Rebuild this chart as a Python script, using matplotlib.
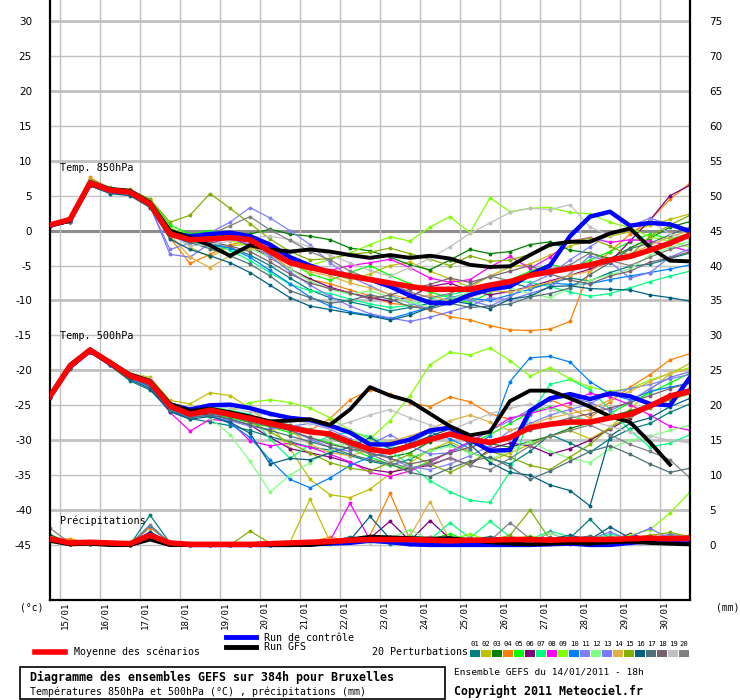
import numpy as np
import matplotlib.pyplot as plt
from matplotlib.lines import Line2D
from matplotlib.patches import Rectangle

# run time axis: hours after 14/01/2011 18h, every 12h up to 384h
hours = list(range(0, 385, 12))
days = ["15/01", "16/01", "17/01", "18/01", "19/01", "20/01", "21/01", "22/01",
        "23/01", "24/01", "25/01", "26/01", "27/01", "28/01", "29/01", "30/01"]

pert_colors = ["#008080", "#c0c000", "#008000", "#ff8000", "#00ff00", "#800080",
               "#00ff80", "#ff00ff", "#80ff00", "#0080ff", "#8080ff", "#80ff80",
               "#7878f8", "#e0b040", "#80b000", "#006080", "#507078", "#786070",
               "#c0c0c0", "#808080"]

# --- temperature 850 hPa (°C)
t850_mean = [0.8, 1.6, 6.8, 5.8, 5.5, 3.8, -0.5, -1.3, -1.2, -1.0, -1.3, -3.0, -4.6,
             -5.3, -5.9, -6.5, -7.0, -7.5, -8.0, -8.4, -8.4, -8.4, -7.8, -7.3, -6.4,
             -5.9, -5.4, -4.9, -4.2, -3.7, -2.8, -1.8, -0.6]
t850_ctrl = [0.7, 1.5, 6.9, 5.9, 5.6, 3.9, -0.3, -0.8, -0.5, -0.3, -0.8, -2.0, -3.8,
             -5.0, -6.0, -6.5, -7.0, -8.0, -9.3, -10.3, -10.4, -9.2, -8.4, -8.0, -6.3,
             -5.0, -0.8, 2.0, 2.7, 0.7, 1.1, 0.9, -0.1]
t850_gfs = [0.8, 1.4, 6.6, 5.9, 5.7, 4.0, 0.0, -1.0, -2.1, -3.6, -2.1, -2.7, -3.0,
            -2.7, -3.0, -3.5, -3.9, -3.5, -3.9, -3.6, -4.0, -4.9, -5.2, -5.1, -3.5,
            -2.0, -1.6, -1.6, -0.4, 0.3, -2.4, -4.3, -4.4]
t850_pert = [
    [0.6, 1.3, 6.5, 5.6, 5.3, 3.5, -0.8, -1.6, -1.9, -2.4, -3.5, -5.0, -6.8, -8.5, -9.6, -10.2, -10.8, -11.5, -11.0, -10.4, -9.6, -9.0, -8.0, -7.4, -8.2, -7.5, -6.8, -7.2, -6.0, -5.1, -4.8, -4.0, -3.2],
    [0.9, 1.7, 7.2, 6.0, 5.4, 4.2, 0.5, -2.4, -3.8, -2.2, -1.9, -2.6, -4.4, -5.3, -6.1, -7.0, -6.2, -5.0, -4.5, -5.8, -6.9, -8.1, -6.5, -5.2, -4.8, -3.5, -2.2, -1.5, -0.8, -0.2, 0.8, 1.6, 2.4],
    [0.8, 1.6, 7.0, 5.9, 5.7, 4.0, 0.2, -0.9, -1.1, -0.5, -0.5, 0.2, -0.5, -0.8, -1.3, -2.5, -2.9, -3.8, -4.9, -5.6, -4.2, -2.7, -3.3, -3.0, -2.0, -1.6, -2.8, -3.2, -4.0, -2.5, -1.1, 0.5, 1.3],
    [0.7, 1.5, 7.6, 6.0, 5.5, 4.5, -1.0, -4.7, -3.4, -2.0, -1.5, -3.3, -5.5, -7.0, -7.6, -8.5, -9.3, -10.4, -10.7, -11.4, -12.3, -12.8, -13.6, -14.2, -14.3, -14.1, -13.0, -5.5, -3.0, -0.5, 1.5, 4.5, 6.8],
    [0.9, 1.8, 7.1, 6.1, 5.8, 4.4, 0.8, -0.5, 0.0, -0.6, -1.3, -2.6, -4.5, -6.2, -7.1, -6.0, -5.0, -6.4, -7.6, -8.8, -9.6, -10.3, -8.9, -7.1, -5.8, -4.8, -5.5, -4.2, -3.0, -1.6, -0.5, -1.2, -0.4],
    [0.6, 1.2, 6.6, 5.4, 5.2, 3.6, -0.6, -1.1, -1.4, -1.0, -2.2, -3.9, -5.5, -6.9, -8.1, -8.9, -9.6, -10.1, -9.5, -8.0, -7.5, -8.6, -9.2, -8.7, -8.0, -7.2, -6.4, -5.5, -4.5, -1.5, 1.5, 5.0, 6.5],
    [0.8, 1.5, 6.9, 5.8, 5.5, 3.8, -0.4, -1.5, -1.9, -2.8, -4.3, -6.0, -7.7, -8.6, -9.0, -9.8, -10.5, -11.0, -10.7, -9.8, -9.2, -8.5, -8.0, -7.2, -7.4, -8.0, -8.8, -9.4, -9.0, -8.2, -7.3, -6.5, -5.8],
    [0.7, 1.4, 6.8, 5.7, 5.4, 3.7, -0.2, -1.3, -1.4, -1.2, -1.6, -2.4, -4.1, -5.3, -5.7, -5.0, -4.6, -4.1, -5.3, -6.8, -7.4, -7.0, -5.2, -3.7, -5.4, -3.8, -1.5, -1.0, -1.7, -1.3, -1.5, -2.2, -3.0],
    [0.9, 1.7, 7.1, 6.0, 5.6, 4.1, 0.3, -0.6, -0.4, -1.4, -2.3, -3.4, -4.4, -5.0, -4.1, -3.2, -2.0, -0.9, -1.5, 0.5, 2.0, -0.3, 4.7, 2.7, 3.2, 3.3, 2.6, 2.4, 1.2, 0.4, -0.9, -1.5, -2.4],
    [0.7, 1.5, 6.9, 5.8, 5.4, 3.7, -0.7, -1.8, -2.0, -2.5, -3.8, -5.7, -7.6, -9.5, -10.8, -11.6, -12.1, -12.6, -11.8, -10.9, -10.2, -9.7, -10.0, -9.2, -8.4, -7.5, -7.7, -7.6, -7.0, -6.5, -6.0, -5.5, -4.9],
    [0.6, 1.4, 6.7, 5.5, 5.3, 3.4, -2.7, -1.8, -0.3, 1.2, 3.3, 1.8, 0.0, -2.0, -4.6, -6.6, -7.9, -9.2, -10.4, -11.2, -9.5, -10.0, -10.8, -9.5, -7.6, -6.3, -4.2, -2.3, -0.5, 0.6, 1.8, 0.8, 0.2],
    [0.8, 1.6, 7.0, 5.9, 5.6, 3.9, 0.0, -1.6, -2.5, -3.7, -2.6, -3.8, -5.5, -7.2, -8.4, -9.1, -8.6, -9.5, -10.2, -11.0, -9.8, -8.8, -7.6, -8.2, -9.0, -9.6, -8.2, -7.1, -6.3, -5.5, -3.5, -2.4, -1.5],
    [0.7, 1.5, 6.8, 5.7, 5.3, 3.6, -3.4, -3.8, -1.8, -1.1, -2.0, -3.6, -5.9, -7.8, -9.4, -10.8, -11.9, -12.5, -13.0, -12.4, -11.6, -10.8, -9.6, -9.9, -9.0, -8.1, -6.2, -3.6, -4.5, -6.8, -6.0, -3.8, -2.6],
    [0.8, 1.6, 7.4, 6.1, 5.1, 4.3, -0.6, -3.8, -5.3, -3.6, -2.5, -2.9, -4.6, -5.9, -6.5, -7.5, -8.2, -9.1, -9.8, -9.2, -10.1, -9.5, -8.6, -8.8, -8.1, -7.4, -6.4, -5.8, -4.2, -3.3, -2.1, -0.9, 0.0],
    [0.9, 1.7, 7.3, 6.2, 5.9, 4.5, 1.2, 2.2, 5.3, 3.2, 1.0, -1.2, -3.0, -4.2, -4.0, -3.4, -3.1, -2.5, -3.3, -4.1, -5.0, -3.6, -4.4, -4.2, -3.4, -2.0, -1.5, -1.1, -2.2, -3.6, -0.8, 0.8, 2.2],
    [0.6, 1.2, 6.4, 5.3, 5.0, 3.3, -1.2, -2.7, -3.6, -4.6, -6.0, -7.8, -9.6, -10.8, -11.3, -11.8, -12.2, -12.8, -12.1, -11.0, -10.0, -10.5, -11.2, -9.8, -9.4, -8.0, -7.9, -8.3, -8.4, -8.5, -9.2, -9.6, -10.1],
    [0.7, 1.4, 6.7, 5.6, 5.4, 3.8, -0.5, -1.7, -2.6, -3.6, -4.8, -6.5, -8.6, -9.6, -10.4, -10.0, -9.2, -9.8, -10.9, -11.2, -10.4, -11.0, -10.8, -10.5, -9.5, -9.0, -8.2, -6.3, -4.6, -2.6, -1.8, -0.6, 0.5],
    [0.8, 1.5, 6.9, 5.7, 5.5, 3.9, -0.3, -1.0, -1.6, -2.2, -3.0, -4.5, -6.2, -7.5, -8.3, -8.9, -9.8, -9.2, -8.4, -7.7, -6.8, -7.4, -6.6, -5.8, -5.0, -6.2, -7.1, -7.6, -6.5, -5.8, -4.5, -3.9, -3.0],
    [0.8, 1.6, 7.0, 5.8, 5.6, 3.9, -0.6, -2.2, -2.0, -1.5, -1.0, -0.8, -1.3, -2.4, -3.5, -4.6, -5.7, -6.5, -5.3, -4.0, -2.3, -0.4, 1.1, 2.6, 3.2, 3.0, 3.7, 0.5, -0.7, 0.6, 1.4, -0.5, -1.2],
    [0.7, 1.4, 6.8, 5.7, 5.5, 3.8, -0.1, -0.8, -0.6, 0.7, 2.0, 0.1, -1.4, -3.0, -4.2, -5.8, -6.9, -7.6, -8.8, -9.6, -9.0, -7.8, -6.5, -7.2, -6.3, -5.5, -4.9, -3.2, -4.3, -5.0, -3.8, -2.7, -1.9],
]

# --- temperature 500 hPa (°C)
t500_mean = [-23.7, -19.4, -17.1, -18.9, -20.8, -21.7, -25.1, -26.3, -25.7, -26.3, -26.9,
             -27.6, -28.2, -28.8, -29.1, -30.3, -31.3, -31.7, -30.8, -29.9, -29.1, -29.9,
             -30.3, -29.6, -28.2, -27.7, -27.4, -27.4, -26.8, -26.3, -25.1, -23.7, -23.0]
t500_ctrl = [-23.8, -19.5, -17.2, -19.0, -20.7, -21.6, -24.9, -25.6, -25.0, -24.9, -25.4,
             -26.2, -26.8, -27.1, -27.9, -28.9, -30.6, -30.6, -29.9, -28.6, -28.2, -29.9,
             -31.5, -31.4, -25.8, -24.0, -23.4, -24.1, -23.3, -23.7, -24.8, -25.0, -21.0]
t500_gfs = [-23.6, -19.2, -17.0, -18.8, -20.6, -21.5, -24.8, -25.8, -25.5, -26.0, -26.6,
            -27.3, -27.2, -27.0, -27.8, -25.6, -22.4, -23.6, -24.4, -26.2, -28.0, -29.3,
            -28.8, -24.4, -22.9, -22.9, -24.0, -25.2, -26.6, -27.4, -30.3, -33.5, np.nan]
t500_pert = [
    [-23.9, -19.8, -17.4, -19.3, -21.5, -22.8, -25.8, -26.9, -27.4, -27.9, -28.6, -29.5, -30.2, -31.0, -31.4, -32.2, -33.0, -33.6, -32.7, -31.4, -30.6, -31.8, -32.6, -33.4, -31.6, -29.2, -30.4, -31.7, -29.8, -28.4, -27.6, -26.0, -24.8],
    [-23.5, -19.2, -16.9, -18.6, -20.4, -21.0, -24.3, -24.8, -23.2, -23.6, -25.4, -27.8, -31.2, -35.6, -37.8, -38.2, -37.0, -34.8, -33.2, -31.4, -30.2, -31.6, -33.0, -31.8, -30.6, -29.4, -28.6, -29.8, -28.2, -25.6, -22.8, -20.5, -19.0],
    [-23.7, -19.4, -17.1, -18.9, -20.7, -21.9, -25.3, -26.3, -26.0, -26.5, -26.9, -27.3, -27.8, -28.5, -29.6, -30.8, -31.9, -32.4, -31.8, -30.2, -29.0, -29.6, -30.5, -31.0, -30.2, -29.4, -28.3, -27.5, -26.6, -25.8, -24.9, -23.6, -22.9],
    [-23.6, -19.3, -17.0, -18.7, -20.5, -21.3, -25.0, -26.0, -25.4, -25.8, -26.4, -27.2, -28.0, -28.6, -26.9, -24.2, -22.8, -23.4, -24.6, -25.2, -23.8, -24.5, -26.2, -27.0, -26.0, -24.2, -25.4, -26.8, -24.5, -22.4, -20.6, -18.5, -17.6],
    [-23.8, -19.6, -17.3, -19.1, -20.9, -22.0, -25.6, -26.6, -26.2, -26.8, -27.5, -28.1, -28.9, -29.6, -30.4, -31.2, -32.4, -33.5, -34.2, -33.0, -31.6, -30.4, -29.2, -27.6, -26.0, -25.2, -26.4, -27.6, -26.2, -24.6, -23.2, -21.8, -20.4],
    [-23.7, -19.5, -17.2, -19.0, -20.8, -21.9, -25.2, -26.2, -26.3, -27.0, -27.8, -29.6, -31.2, -31.8, -32.4, -33.2, -34.2, -34.6, -34.0, -33.6, -32.5, -33.6, -31.2, -30.4, -30.8, -32.0, -31.2, -30.0, -28.4, -26.8, -25.2, -23.4, -22.6],
    [-23.6, -19.3, -17.0, -18.8, -20.6, -21.6, -25.0, -26.0, -25.3, -25.7, -26.3, -29.8, -32.6, -30.6, -29.4, -28.8, -29.5, -31.4, -33.6, -35.8, -37.4, -38.6, -38.9, -34.5, -26.4, -22.0, -21.3, -22.8, -25.6, -28.6, -31.0, -30.4, -29.2],
    [-23.8, -19.6, -17.3, -19.1, -21.0, -22.4, -26.0, -28.7, -27.0, -27.3, -30.1, -30.8, -30.4, -31.0, -32.0, -33.1, -34.6, -35.2, -34.4, -33.2, -31.6, -30.2, -28.6, -26.8, -26.2, -25.4, -24.6, -23.3, -23.8, -24.9, -26.4, -28.0, -28.6],
    [-23.5, -19.2, -16.9, -18.7, -20.5, -21.4, -24.6, -25.7, -25.2, -25.8, -24.6, -24.2, -24.6, -25.4, -26.8, -28.6, -29.8, -27.2, -23.6, -19.2, -17.4, -17.8, -16.8, -18.6, -20.8, -19.6, -21.2, -22.4, -23.0, -22.6, -21.4, -20.4, -19.6],
    [-23.8, -19.6, -17.3, -19.2, -21.1, -22.3, -25.7, -26.8, -26.4, -27.6, -29.6, -32.8, -35.6, -36.8, -35.4, -33.6, -32.4, -31.6, -30.4, -28.8, -29.8, -31.2, -29.4, -21.6, -18.2, -18.0, -18.8, -21.6, -23.4, -24.2, -23.0, -22.4, -21.8],
    [-23.7, -19.5, -17.1, -19.0, -20.8, -21.8, -25.3, -26.4, -26.6, -27.2, -28.0, -28.4, -28.0, -27.6, -28.4, -29.8, -31.0, -32.6, -33.8, -34.2, -33.4, -32.2, -30.8, -28.6, -27.6, -26.4, -25.6, -24.8, -23.2, -22.6, -22.0, -21.2, -20.6],
    [-23.6, -19.4, -17.0, -18.8, -20.6, -21.5, -25.0, -26.0, -26.8, -29.2, -33.0, -37.4, -35.0, -33.2, -31.4, -30.2, -29.4, -30.6, -32.4, -31.6, -30.8, -31.8, -32.8, -31.4, -30.2, -31.6, -32.6, -33.2, -31.2, -30.0, -29.4, -28.6, -27.8],
    [-23.7, -19.5, -17.2, -19.0, -20.8, -21.7, -25.2, -26.5, -26.6, -26.2, -27.0, -27.6, -28.6, -29.8, -31.0, -31.6, -30.6, -29.2, -30.8, -32.0, -31.8, -30.4, -28.6, -27.2, -25.6, -24.2, -23.8, -24.6, -25.8, -24.4, -22.6, -21.0, -20.2],
    [-23.6, -19.3, -17.0, -18.8, -20.5, -21.4, -24.9, -25.9, -25.4, -26.1, -26.8, -27.6, -28.6, -30.6, -31.8, -32.2, -31.4, -30.2, -29.4, -28.4, -27.2, -26.4, -27.4, -28.6, -27.8, -26.8, -26.2, -25.6, -24.2, -23.0, -21.6, -20.4, -19.8],
    [-23.7, -19.4, -17.1, -18.9, -20.7, -21.8, -25.4, -26.4, -25.9, -26.6, -27.4, -28.8, -30.4, -31.8, -33.2, -34.0, -34.4, -33.2, -32.0, -33.4, -34.6, -33.2, -31.6, -32.4, -33.6, -34.2, -32.4, -30.6, -28.2, -26.6, -25.4, -24.2, -23.4],
    [-23.9, -19.7, -17.4, -19.3, -21.3, -22.6, -25.9, -27.0, -26.6, -27.4, -29.0, -33.4, -32.6, -32.8, -31.8, -31.0, -29.6, -31.2, -30.6, -29.4, -28.4, -30.6, -33.2, -34.6, -35.0, -36.4, -37.2, -39.4, -29.4, -27.6, -26.8, -25.2, -24.0],
    [-23.8, -19.6, -17.3, -19.1, -21.0, -22.2, -25.6, -26.7, -26.4, -27.0, -27.8, -28.6, -29.4, -30.2, -31.0, -32.0, -32.8, -33.4, -34.6, -35.2, -34.0, -33.0, -32.4, -33.8, -35.6, -34.4, -33.0, -31.6, -30.8, -32.0, -33.4, -34.6, -34.0],
    [-23.7, -19.5, -17.2, -19.0, -20.8, -21.9, -25.3, -26.4, -26.1, -26.6, -27.4, -28.0, -28.6, -29.6, -30.6, -31.2, -31.8, -32.6, -33.4, -32.8, -31.8, -31.0, -30.2, -29.6, -28.6, -27.6, -26.8, -26.2, -25.4, -24.6, -23.6, -22.6, -21.8],
    [-23.6, -19.2, -16.8, -18.6, -20.4, -21.2, -24.6, -25.5, -25.0, -25.4, -26.0, -26.4, -27.0, -27.6, -28.2, -27.4, -26.4, -25.6, -26.8, -27.8, -28.6, -27.4, -26.2, -25.4, -24.8, -25.6, -26.4, -27.2, -28.0, -28.8, -29.4, -30.0, -30.4],
    [-23.7, -19.4, -17.1, -18.9, -20.8, -21.7, -25.1, -26.1, -25.6, -26.0, -26.6, -27.2, -27.9, -28.4, -29.4, -30.8, -32.0, -33.2, -34.0, -33.4, -32.6, -33.6, -34.2, -32.6, -30.8, -29.4, -28.6, -27.8, -29.2, -30.6, -31.6, -32.8, -35.4],
]

# --- precipitation (mm), drawn on the right-hand scale (0 mm = -45 °C)
rr_mean = [0.9, 0.3, 0.4, 0.3, 0.2, 1.4, 0.3, 0.1, 0.1, 0.1, 0.1, 0.2, 0.3, 0.4, 0.5, 0.7,
           0.8, 0.8, 0.8, 0.7, 0.6, 0.7, 0.7, 0.8, 0.8, 0.7, 0.8, 0.8, 0.8, 0.9, 1.0, 0.9, 1.0]
rr_ctrl = [0.8, 0.2, 0.3, 0.2, 0.1, 1.6, 0.1, 0.0, 0.0, 0.0, 0.0, 0.0, 0.0, 0.1, 0.2, 0.3,
           0.6, 0.4, 0.1, 0.0, 0.0, 0.0, 0.0, 0.0, 0.0, 0.1, 0.2, 0.0, 0.0, 0.3, 0.5, 0.3, 0.2]
rr_gfs = [0.6, 0.1, 0.2, 0.0, 0.0, 0.8, 0.0, 0.0, 0.0, 0.0, 0.0, 0.0, 0.0, 0.0, 0.3, 0.8,
          1.2, 1.1, 1.0, 0.9, 1.0, 0.7, 0.4, 0.2, 0.1, 0.2, 0.3, 0.2, 0.4, 0.5, 0.3, 0.2, 0.1]
rr_pert = [
    [0.9, 0.2, 0.3, 0.2, 0.0, 4.3, 0.3, 0.0, 0.0, 0.0, 0.0, 0.1, 0.2, 0.1, 0.4, 1.2, 0.8, 0.3, 0.2, 0.6, 0.4, 0.2, 0.8, 0.5, 0.3, 0.6, 1.0, 3.7, 0.8, 0.3, 0.5, 1.4, 0.6],
    [0.6, 0.1, 0.4, 0.3, 0.0, 1.4, 0.2, 0.0, 0.0, 0.0, 0.0, 0.0, 0.4, 6.6, 0.5, 0.3, 0.7, 0.2, 0.1, 0.4, 0.2, 0.9, 0.3, 0.2, 0.6, 0.4, 0.3, 0.8, 1.2, 0.6, 0.9, 0.4, 0.3],
    [1.5, 0.3, 0.2, 0.2, 0.1, 1.8, 0.2, 0.0, 0.0, 0.0, 0.0, 0.0, 0.1, 0.2, 0.3, 0.8, 1.0, 0.4, 0.9, 0.2, 0.5, 0.3, 0.6, 0.4, 0.8, 0.6, 0.3, 0.5, 0.9, 1.1, 0.4, 0.8, 1.2],
    [0.8, 0.9, 0.3, 0.2, 0.0, 2.5, 0.4, 0.0, 0.0, 0.0, 0.0, 0.1, 0.3, 0.5, 1.1, 0.6, 1.4, 7.4, 0.8, 1.2, 0.4, 0.2, 0.6, 0.3, 0.2, 0.4, 0.7, 0.5, 0.3, 0.6, 1.2, 0.8, 1.4],
    [1.0, 0.2, 0.3, 0.2, 0.1, 1.6, 0.3, 0.0, 0.0, 0.0, 0.0, 0.0, 0.1, 0.4, 0.2, 0.5, 0.6, 0.9, 0.4, 0.8, 1.6, 0.6, 0.4, 1.1, 0.5, 0.9, 0.6, 0.3, 0.6, 0.8, 1.0, 0.7, 0.5],
    [0.7, 0.1, 0.2, 0.3, 0.0, 1.2, 0.2, 0.0, 0.0, 0.0, 0.0, 0.0, 0.2, 0.3, 0.6, 0.9, 1.0, 3.4, 0.6, 3.5, 0.9, 0.4, 0.3, 0.6, 0.8, 0.4, 0.2, 1.1, 0.6, 1.6, 0.8, 0.5, 0.7],
    [0.9, 0.2, 0.3, 0.2, 0.0, 1.5, 0.3, 0.0, 0.0, 0.0, 0.0, 0.0, 0.1, 0.2, 0.5, 0.4, 1.2, 0.6, 1.4, 0.8, 3.2, 1.0, 3.4, 1.2, 0.8, 2.0, 1.2, 0.7, 1.6, 0.9, 0.5, 1.0, 0.8],
    [0.8, 0.2, 0.4, 0.2, 0.0, 1.3, 0.2, 0.0, 0.0, 0.0, 0.0, 0.0, 0.2, 0.4, 0.6, 6.0, 0.7, 0.4, 0.3, 0.5, 0.6, 0.2, 0.9, 0.4, 0.3, 1.8, 0.5, 0.3, 0.7, 0.4, 0.6, 0.9, 0.5],
    [0.9, 0.3, 0.3, 0.2, 0.1, 1.7, 0.3, 0.0, 0.0, 0.0, 0.0, 0.1, 0.2, 0.3, 0.4, 0.6, 0.5, 0.8, 0.5, 0.9, 0.7, 1.6, 0.6, 0.8, 1.3, 0.7, 1.1, 0.6, 0.9, 1.4, 2.2, 4.6, 7.6],
    [0.8, 0.2, 0.3, 0.2, 0.0, 2.8, 0.2, 0.0, 0.0, 0.0, 0.0, 0.0, 0.1, 0.2, 0.3, 0.4, 0.6, 0.2, 0.1, 0.3, 0.4, 0.2, 0.5, 0.3, 0.6, 0.2, 0.4, 0.7, 0.3, 0.5, 0.8, 1.1, 0.6],
    [0.7, 0.2, 0.2, 0.3, 0.0, 1.2, 0.3, 0.0, 0.0, 0.0, 0.0, 0.0, 0.2, 0.3, 0.5, 0.6, 0.9, 1.2, 0.5, 0.7, 0.3, 0.6, 0.8, 0.5, 0.9, 1.0, 0.6, 0.8, 1.9, 0.7, 0.9, 1.6, 1.0],
    [0.9, 0.2, 0.3, 0.2, 0.1, 1.4, 0.2, 0.0, 0.0, 0.0, 0.0, 0.0, 0.1, 0.2, 0.4, 0.8, 0.6, 1.0, 2.2, 0.7, 0.5, 0.9, 1.2, 0.6, 0.8, 1.7, 0.7, 1.3, 0.9, 0.6, 1.1, 0.8, 1.3],
    [0.8, 0.3, 0.3, 0.2, 0.0, 1.5, 0.3, 0.0, 0.0, 0.0, 0.0, 0.1, 0.2, 0.4, 0.3, 0.7, 0.5, 0.9, 0.6, 1.1, 0.8, 0.4, 0.6, 0.9, 0.5, 0.7, 1.0, 0.6, 0.8, 1.2, 2.4, 0.9, 1.1],
    [0.9, 0.2, 0.4, 0.3, 0.0, 1.8, 0.2, 0.0, 0.0, 0.0, 0.0, 0.0, 0.3, 0.5, 0.8, 0.6, 1.1, 0.9, 1.3, 6.2, 0.7, 0.4, 1.0, 0.6, 0.4, 0.8, 0.5, 0.9, 0.7, 0.5, 0.8, 0.6, 0.9],
    [0.8, 0.1, 0.2, 0.2, 0.1, 1.1, 0.2, 0.0, 0.0, 0.0, 2.0, 0.3, 0.2, 0.4, 0.6, 0.5, 0.8, 0.6, 0.4, 0.9, 0.6, 1.0, 0.7, 1.4, 5.0, 0.8, 0.6, 1.2, 0.8, 1.0, 1.4, 1.8, 1.2],
    [0.9, 0.2, 0.3, 0.2, 0.0, 1.9, 0.3, 0.0, 0.0, 0.0, 0.0, 0.0, 0.1, 0.3, 0.5, 0.7, 4.1, 0.9, 0.6, 0.8, 1.0, 0.7, 1.2, 0.8, 1.1, 0.9, 1.4, 0.8, 2.6, 1.0, 0.7, 0.9, 1.1],
    [0.7, 0.2, 0.3, 0.2, 0.0, 1.3, 0.2, 0.0, 0.0, 0.0, 0.0, 0.0, 0.2, 0.3, 0.4, 0.9, 0.7, 1.1, 0.8, 0.5, 0.9, 0.6, 0.8, 1.0, 0.7, 0.6, 0.9, 1.3, 0.7, 0.9, 1.2, 1.0, 0.8],
    [0.8, 0.2, 0.2, 0.3, 0.0, 1.6, 0.3, 0.0, 0.0, 0.0, 0.0, 0.0, 0.1, 0.2, 0.6, 0.5, 0.8, 0.7, 1.0, 0.6, 0.4, 0.8, 0.6, 0.9, 0.7, 1.1, 0.8, 0.6, 1.0, 0.8, 0.6, 1.1, 0.9],
    [0.9, 0.3, 0.3, 0.2, 0.1, 1.2, 0.2, 0.0, 0.0, 0.0, 0.0, 0.0, 0.2, 0.3, 0.4, 0.6, 0.5, 0.7, 0.6, 0.9, 0.5, 0.7, 0.9, 0.6, 0.8, 0.5, 0.7, 0.9, 0.6, 0.8, 1.0, 0.7, 0.9],
    [2.4, 0.3, 0.3, 0.2, 0.1, 2.9, 0.3, 0.0, 0.0, 0.0, 0.0, 0.1, 0.2, 0.3, 0.5, 0.4, 0.8, 0.6, 0.9, 0.5, 0.8, 1.0, 0.6, 3.2, 0.9, 0.7, 1.0, 0.8, 1.2, 0.9, 0.6, 1.4, 1.0],
]

fig = plt.figure(figsize=(7.4, 7.0), dpi=100)
ax = fig.add_axes([50 / 740, 100 / 700, 640 / 740, 600 / 700])
ax.set_xlim(0, 384)
ax.set_ylim(-52.86, 33.0)

# grid
for v in range(-45, 31, 5):
    if v == 0:
        ax.axhline(v, color="#8c8c8c", lw=2.2, zorder=1)
    elif v % 10 == 0:
        ax.axhline(v, color="#c0c0c0", lw=2.0, zorder=1)
    else:
        ax.axhline(v, color="#c0c0c0", lw=1.0, zorder=1)
for i in range(len(days)):
    ax.axvline(6 + 24 * i, color="#c0c0c0", lw=1.0, zorder=1)

rr_base = -45
for i, c in enumerate(pert_colors):
    ax.plot(hours, t850_pert[i], color=c, lw=0.9, marker="o", ms=1.8, zorder=2)
    ax.plot(hours, t500_pert[i], color=c, lw=0.9, marker="o", ms=1.8, zorder=2)
    ax.plot(hours, [rr_base + v for v in rr_pert[i]], color=c, lw=0.9, marker="o", ms=1.8, zorder=2)

ax.plot(hours, t850_ctrl, color="#0000ff", lw=3.2, zorder=3)
ax.plot(hours, t500_ctrl, color="#0000ff", lw=3.2, zorder=3)
ax.plot(hours, [rr_base + v for v in rr_ctrl], color="#0000ff", lw=3.0, zorder=3)
ax.plot(hours, t850_gfs, color="black", lw=2.8, zorder=4)
ax.plot(hours, t500_gfs, color="black", lw=2.8, zorder=4)
ax.plot(hours, [rr_base + v for v in rr_gfs], color="black", lw=2.8, zorder=4)
ax.plot(hours, t850_mean, color="#ff0000", lw=4.0, zorder=5)
ax.plot(hours, t500_mean, color="#ff0000", lw=4.0, zorder=5)
ax.plot(hours, [rr_base + v for v in rr_mean], color="#ff0000", lw=4.0, zorder=5)

mono = "DejaVu Sans Mono"
ax.text(6, 9.0, "Temp. 850hPa", family=mono, fontsize=7.3, va="center", zorder=6)
ax.text(6, -15.1, "Temp. 500hPa", family=mono, fontsize=7.3, va="center", zorder=6)
ax.text(6, -41.5, "Précipitations", family=mono, fontsize=7.3, va="center", zorder=6)

ax.spines["top"].set_visible(False)
for s in ["left", "right", "bottom"]:
    ax.spines[s].set_linewidth(1.6)
ax.set_yticks(range(-45, 31, 5))
ax.set_yticklabels([str(v) for v in range(-45, 31, 5)], fontsize=7.5)
ax.tick_params(axis="y", length=0, pad=13)
ax.set_xticks([])

ax2 = ax.twinx()
ax2.set_ylim(-52.86 + 45, 33.0 + 45)
ax2.set_yticks(range(0, 76, 5))
ax2.set_yticklabels([str(v) for v in range(0, 76, 5)], fontsize=7.5)
ax2.tick_params(axis="y", length=0, pad=14)
for s in ax2.spines.values():
    s.set_visible(False)

for i, d in enumerate(days):
    ax.text(6 + 24 * i + 2.7, -0.002, d, transform=ax.get_xaxis_transform(),
            rotation=90, ha="center", va="top", family=mono, fontsize=6.6)


def fx(px):
    return px / 740


def fy(py):
    return 1 - py / 700


fig.text(fx(20), fy(607), "(°c)", family=mono, fontsize=7.0, va="center")
fig.text(fx(716), fy(607), "(mm)", family=mono, fontsize=7.0, va="center")

# legend
fig.add_artist(Line2D([fx(35), fx(65)], [fy(652), fy(652)], color="#ff0000", lw=4.0))
fig.text(fx(74), fy(652), "Moyenne des scénarios", family=mono, fontsize=7.2, va="center")
fig.add_artist(Line2D([fx(226), fx(256)], [fy(637), fy(637)], color="#0000ff", lw=3.5))
fig.text(fx(264), fy(638), "Run de contrôle", family=mono, fontsize=7.2, va="center")
fig.add_artist(Line2D([fx(226), fx(256)], [fy(647), fy(647)], color="black", lw=3.5))
fig.text(fx(264), fy(647), "Run GFS", family=mono, fontsize=7.2, va="center")
fig.text(fx(372), fy(652), "20 Perturbations", family=mono, fontsize=7.2, va="center")
for i, c in enumerate(pert_colors):
    x0 = 470 + 11 * i
    fig.add_artist(Rectangle((fx(x0), fy(657)), 10 / 740, 7 / 700, color=c, lw=0))
    fig.text(fx(x0 + 5), fy(644), "%02d" % (i + 1), family=mono, fontsize=5.2,
             ha="center", va="center")

fig.add_artist(Rectangle((fx(20), fy(699)), 425 / 740, 32 / 700, fill=False,
                         edgecolor="black", lw=1.2))
fig.text(fx(30), fy(677), "Diagramme des ensembles GEFS sur 384h pour Bruxelles",
         family=mono, fontsize=8.4, weight="bold", va="center")
fig.text(fx(30), fy(692), "Températures 850hPa et 500hPa (°C) , précipitations (mm)",
         family=mono, fontsize=7.1, va="center")
fig.text(fx(454), fy(672), "Ensemble GEFS du 14/01/2011 - 18h", family=mono,
         fontsize=6.8, va="center")
fig.text(fx(454), fy(691), "Copyright 2011 Meteociel.fr", family=mono, fontsize=8.4,
         weight="bold", va="center")

fig.savefig("out.png", dpi=100)
